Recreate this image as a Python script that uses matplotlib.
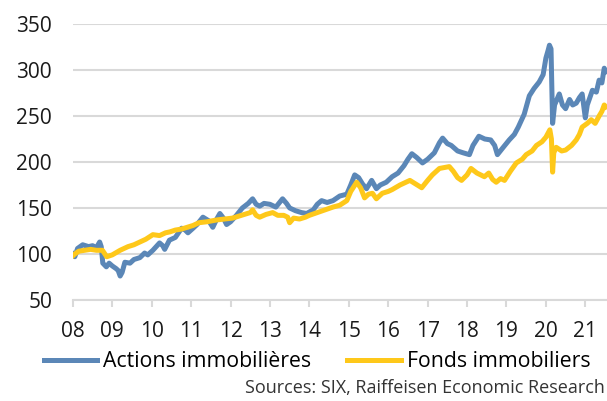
import matplotlib
matplotlib.use("Agg")
import matplotlib.pyplot as plt

# Actions immobilieres (decimal year, index)
years_act = [2008.00, 2008.05, 2008.12, 2008.25, 2008.40, 2008.50, 2008.60, 2008.68, 2008.72, 2008.76,
             2008.85, 2008.92, 2009.00, 2009.10, 2009.15, 2009.20, 2009.25, 2009.32, 2009.45, 2009.55,
             2009.70, 2009.82, 2009.90, 2010.03, 2010.20, 2010.28, 2010.33, 2010.45, 2010.60, 2010.76,
             2010.85, 2010.92, 2011.05, 2011.15, 2011.30, 2011.45, 2011.55, 2011.65, 2011.73, 2011.82,
             2011.90, 2012.00, 2012.15, 2012.30, 2012.45, 2012.56, 2012.65, 2012.74, 2012.85, 2013.00,
             2013.15, 2013.32, 2013.42, 2013.50, 2013.65, 2013.80, 2013.93, 2014.10, 2014.20, 2014.31,
             2014.45, 2014.60, 2014.77, 2014.95, 2015.05, 2015.15, 2015.25, 2015.35, 2015.45, 2015.58,
             2015.70, 2015.80, 2015.95, 2016.10, 2016.25, 2016.40, 2016.50, 2016.60, 2016.72, 2016.87,
             2017.00, 2017.17, 2017.30, 2017.38, 2017.50, 2017.60, 2017.76, 2017.90, 2018.06, 2018.15,
             2018.30, 2018.45, 2018.60, 2018.70, 2018.77, 2018.90, 2019.07, 2019.20, 2019.30, 2019.45,
             2019.58, 2019.70, 2019.83, 2019.93, 2020.00, 2020.06, 2020.09, 2020.13, 2020.17, 2020.22,
             2020.30, 2020.34, 2020.42, 2020.50, 2020.60, 2020.68, 2020.77, 2020.85, 2020.92, 2021.00,
             2021.05, 2021.18, 2021.28, 2021.35, 2021.42, 2021.48, 2021.52]
actions = [100, 97, 106, 110, 108, 109, 107, 113, 108, 90,
           86, 90, 87, 84, 82, 76, 80, 91, 90, 94,
           96, 101, 99, 104, 112, 109, 105, 115, 118, 128,
           126, 123, 128, 132, 140, 136, 129, 138, 144, 139,
           132, 135, 142, 150, 155, 160, 154, 152, 155, 154,
           151, 160, 155, 150, 147, 145, 144, 148, 154, 158,
           156, 158, 163, 165, 175, 186, 183, 176, 171, 180,
           171, 175, 178, 184, 188, 196, 203, 209, 205, 199,
           203, 210, 221, 226, 220, 218, 212, 210, 208, 218,
           228, 225, 224, 218, 208, 215, 224, 230, 238, 252,
           272, 280, 287, 295, 313, 322, 327, 323, 242, 262,
           270, 274, 262, 258, 268, 262, 264, 270, 274, 248,
           262, 278, 276, 289, 286, 302, 298]

# Fonds immobiliers
years_fonds = [2008.00, 2008.05, 2008.15, 2008.30, 2008.45, 2008.60, 2008.75, 2008.86, 2009.00, 2009.20,
               2009.40, 2009.55, 2009.70, 2009.85, 2010.03, 2010.20, 2010.35, 2010.46, 2010.60, 2010.75,
               2010.90, 2011.05, 2011.20, 2011.40, 2011.65, 2011.85, 2012.05, 2012.20, 2012.35, 2012.50,
               2012.56, 2012.65, 2012.74, 2012.90, 2013.07, 2013.20, 2013.35, 2013.45, 2013.50, 2013.60,
               2013.75, 2013.90, 2014.00, 2014.20, 2014.40, 2014.60, 2014.77, 2014.95, 2015.05, 2015.20,
               2015.30, 2015.40, 2015.50, 2015.60, 2015.70, 2015.85, 2016.00, 2016.10, 2016.30, 2016.55,
               2016.70, 2016.85, 2017.00, 2017.12, 2017.30, 2017.55, 2017.65, 2017.76, 2017.86, 2018.00,
               2018.10, 2018.25, 2018.44, 2018.55, 2018.65, 2018.74, 2018.85, 2018.95, 2019.10, 2019.25,
               2019.40, 2019.50, 2019.65, 2019.76, 2019.90, 2020.00, 2020.10, 2020.14, 2020.17, 2020.20,
               2020.26, 2020.40, 2020.50, 2020.65, 2020.77, 2020.85, 2020.92, 2021.05, 2021.15, 2021.25,
               2021.35, 2021.42, 2021.48, 2021.52]
fonds = [98, 100, 103, 104, 105, 104, 104, 97, 99, 104,
         108, 110, 113, 116, 121, 120, 123, 124, 126, 127,
         129, 131, 134, 135, 137, 138, 139, 141, 143, 145,
         148, 142, 140, 143, 145, 142, 142, 140, 134, 139,
         138, 140, 142, 145, 148, 151, 153, 158, 168, 178,
         172, 161, 165, 166, 160, 166, 168, 170, 175, 180,
         176, 172, 180, 186, 193, 195, 190, 183, 180, 186,
         193, 188, 184, 188, 181, 178, 182, 180, 190, 199,
         203, 208, 212, 218, 222, 227, 235, 225, 189, 210,
         216, 212, 213, 218, 224, 230, 238, 242, 246, 242,
         250, 255, 262, 260]

tick_years = list(range(2008, 2022))
tick_labels = ["%02d" % (y % 100) for y in tick_years]

blue = "#5b87b7"
yellow = "#fec81a"
grid_col = "#d9d9d9"

plt.rcParams["font.family"] = ["Open Sans", "DejaVu Sans"]

fig = plt.figure(figsize=(6.07, 4.01), dpi=100)
ax = fig.add_axes([0.12, 0.252, 0.88, 0.688])

ax.plot(years_act, actions, color=blue, lw=3.6, solid_joinstyle="round", label="Actions immobilières")
ax.plot(years_fonds, fonds, color=yellow, lw=3.6, solid_joinstyle="round", label="Fonds immobiliers")

ax.set_xlim(2008, 2021.55)
ax.set_ylim(50, 350)
ax.set_yticks([50, 100, 150, 200, 250, 300, 350])
ax.set_xticks(tick_years)
ax.set_xticklabels(tick_labels)
ax.grid(axis="y", color=grid_col, lw=1.5)
ax.set_axisbelow(True)
for s in ["top", "right", "left"]:
    ax.spines[s].set_visible(False)
ax.spines["bottom"].set_color(grid_col)
ax.spines["bottom"].set_linewidth(1.5)
ax.tick_params(axis="y", length=0, pad=15, labelsize=15, labelcolor="#1a1a1a")
ax.tick_params(axis="x", length=5, width=1.5, color=grid_col, pad=10, labelsize=15, labelcolor="#1a1a1a")

leg = fig.legend(loc="center left", bbox_to_anchor=(0.072, 0.098), ncol=2, frameon=False,
                 fontsize=15.3, handlelength=2.5, handletextpad=0.3, columnspacing=1.7,
                 borderaxespad=0, borderpad=0)
for line in leg.get_lines():
    line.set_linewidth(3.6)

fig.text(0.997, 0.032, "Sources: SIX, Raiffeisen Economic Research", ha="right", va="center",
         fontsize=13, color="#333333")

fig.savefig("out.png", dpi=100)
